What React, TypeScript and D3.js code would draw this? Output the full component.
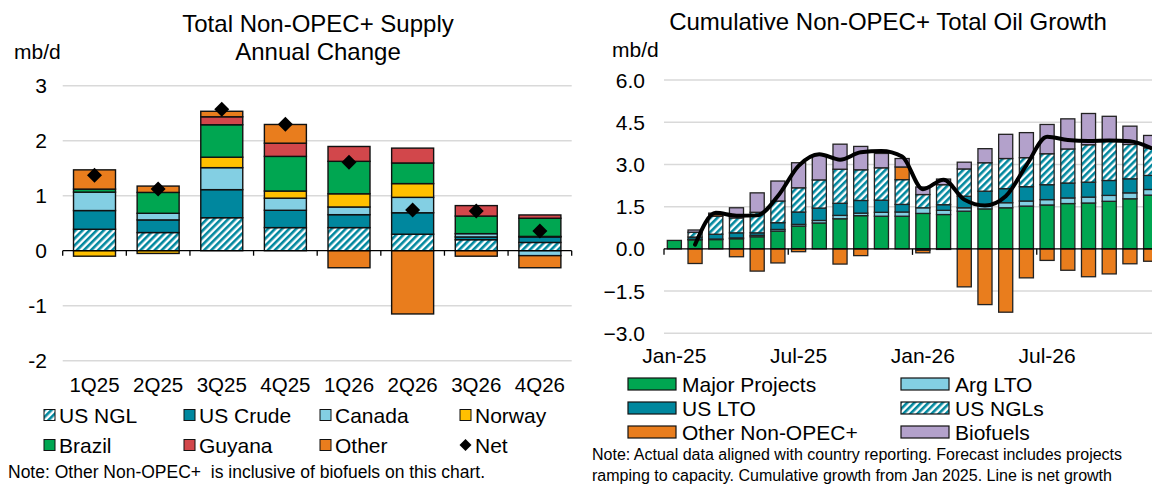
import React from 'react';
import * as d3 from 'd3';

// ---------- Left chart data (mb/d, annual change) ----------
const quarters = ['1Q25', '2Q25', '3Q25', '4Q25', '1Q26', '2Q26', '3Q26', '4Q26'];
const usNgl = [0.39, 0.33, 0.6, 0.42, 0.42, 0.3, 0.2, 0.15];
const usCrude = [0.34, 0.23, 0.51, 0.315, 0.235, 0.39, 0.05, 0.1];
const canada = [0.335, 0.12, 0.4, 0.22, 0.14, 0.28, 0.06, -0.09];
const norway = [-0.1, -0.05, 0.19, 0.13, 0.24, 0.25, 0, 0.01];
const brazil = [0.055, 0.38, 0.59, 0.63, 0.59, 0.375, 0.32, 0.33];
const guyana = [0, 0, 0.145, 0.24, 0.27, 0.27, 0.19, 0.06];
const otherQ = [0.35, 0.115, 0.1, 0.34, -0.31, -1.15, -0.1, -0.22];
const netQ = [1.37, 1.12, 2.57, 2.3, 1.61, 0.74, 0.72, 0.36];
const leftTicks = [-2, -1, 0, 1, 2, 3];

// ---------- Right chart data (cumulative growth from Jan 2025) ----------
const months = [
  'Jan-25', 'Feb-25', 'Mar-25', 'Apr-25', 'May-25', 'Jun-25', 'Jul-25', 'Aug-25', 'Sep-25', 'Oct-25', 'Nov-25', 'Dec-25',
  'Jan-26', 'Feb-26', 'Mar-26', 'Apr-26', 'May-26', 'Jun-26', 'Jul-26', 'Aug-26', 'Sep-26', 'Oct-26', 'Nov-26', 'Dec-26',
];
const majorProjects = [0.3, 0.32, 0.33, 0.36, 0.43, 0.63, 0.81, 0.92, 1.07, 1.18, 1.16, 1.16, 1.26, 1.22, 1.34, 1.42, 1.46, 1.52, 1.56, 1.61, 1.63, 1.69, 1.78, 1.91];
const argLto = [0, 0.02, 0.02, 0.03, 0.05, 0.06, 0.06, 0.09, 0.12, 0.09, 0.14, 0.15, 0.2, 0.15, 0.12, 0.13, 0.18, 0.18, 0.19, 0.2, 0.21, 0.21, 0.21, 0.2];
const usLto = [0, 0.08, 0.17, 0.18, 0.09, 0.24, 0.44, 0.44, 0.43, 0.45, 0.43, 0.27, -0.05, 0.2, 0.41, 0.5, 0.5, 0.51, 0.53, 0.53, 0.53, 0.53, 0.5, 0.5];
const usNgls = [0, 0.17, 0.64, 0.53, 0.73, 0.77, 0.86, 1.0, 1.21, 1.09, 1.15, 0.88, 0.47, 0.71, 0.97, 1.01, 1.07, 1.03, 1.1, 1.21, 1.33, 1.39, 1.22, 0.98];
const otherNonOpec = [0, -0.52, 0.06, -0.28, -0.79, -0.5, -0.1, 0, -0.54, -0.24, 0, 0.45, -0.09, -0.02, -1.35, -1.98, -2.25, -1.03, -0.41, -0.76, -0.99, -0.89, -0.53, -0.44];
const biofuels = [0, 0.08, 0.05, 0.36, 0.69, 0.71, 0.89, 0.88, 0.89, 0.83, 0.51, 0.3, 0.27, 0.2, 0.24, 0.5, 0.86, 0.89, 1.04, 1.07, 1.11, 0.89, 0.65, 0.44];
const netLine: (number | null)[] = [null, 0.15, 1.28, 1.18, 1.19, 1.88, 2.95, 3.36, 3.17, 3.43, 3.48, 3.28, 2.12, 2.46, 1.75, 1.54, 1.87, 2.97, 3.98, 3.87, 3.83, 3.85, 3.82, 3.59];
const rightTicks = [-3, -1.5, 0, 1.5, 3, 4.5, 6];
const monthLabels = ['Jan-25', 'Jul-25', 'Jan-26', 'Jul-26'];

const C = {
  green: '#00A651',
  teal: '#00879E',
  light: '#83CFE3',
  yellow: '#FFC000',
  red: '#D2474B',
  orange: '#E97D1D',
  purple: '#B3A1CB',
  grid: '#D9D9D9',
};
const FONT = '"Liberation Sans", Arial, Helvetica, sans-serif';

const leftKeys = ['US NGL', 'US Crude', 'Canada', 'Norway', 'Brazil', 'Guyana', 'Other'];
const leftSeries = [usNgl, usCrude, canada, norway, brazil, guyana, otherQ];
const leftFill: Record<string, string> = {
  'US NGL': 'url(#hatch)',
  'US Crude': C.teal,
  Canada: C.light,
  Norway: C.yellow,
  Brazil: C.green,
  Guyana: C.red,
  Other: C.orange,
};

const rightKeys = ['Major Projects', 'Arg LTO', 'US LTO', 'US NGLs', 'Other Non-OPEC+', 'Biofuels'];
const rightSeries = [majorProjects, argLto, usLto, usNgls, otherNonOpec, biofuels];
const rightFill: Record<string, string> = {
  'Major Projects': C.green,
  'Arg LTO': C.light,
  'US LTO': C.teal,
  'US NGLs': 'url(#hatch)',
  'Other Non-OPEC+': C.orange,
  Biofuels: C.purple,
};

export default function App() {
  // Left scales
  const xL = d3.scaleBand<string>().domain(quarters).range([62.7, 571.7]).paddingInner(0.34).paddingOuter(0.17);
  const yL = d3.scaleLinear().domain([-2, 3]).range([360.7, 85.7]);
  const leftRows = quarters.map((q, i) => {
    const r: any = { q };
    leftKeys.forEach((k, j) => (r[k] = leftSeries[j][i]));
    return r;
  });
  const leftStack = d3.stack<any>().keys(leftKeys).offset(d3.stackOffsetDiverging)(leftRows);

  // Right scales
  const xR = d3.scaleBand<string>().domain(months).range([664, 1161]).paddingInner(0.32).paddingOuter(0.16);
  const yR = d3.scaleLinear().domain([-3, 6]).range([333.3, 80]);
  const rightRows = months.map((m, i) => {
    const r: any = { m };
    rightKeys.forEach((k, j) => (r[k] = rightSeries[j][i]));
    return r;
  });
  const rightStack = d3.stack<any>().keys(rightKeys).offset(d3.stackOffsetDiverging)(rightRows);
  const line = d3
    .line<number | null>()
    .defined((d) => d !== null)
    .x((_, i) => (xR(months[i]) as number) + xR.bandwidth() / 2)
    .y((d) => yR(d as number))
    .curve(d3.curveMonotoneX);

  const diamond = (cx: number, cy: number, r: number) => `M${cx},${cy - r}L${cx + r},${cy}L${cx},${cy + r}L${cx - r},${cy}Z`;

  const leftLegend = [
    ['US NGL', 'US Crude', 'Canada', 'Norway'],
    ['Brazil', 'Guyana', 'Other', 'Net'],
  ];
  const leftLegendX = [44, 184, 320, 460];
  const leftLegendY = [415, 445];

  const rightLegend = [
    ['Major Projects', 'Arg LTO'],
    ['US LTO', 'US NGLs'],
    ['Other Non-OPEC+', 'Biofuels'],
  ];
  const rightLegendX = [628, 901];
  const rightLegendY = [384, 408, 432];

  return (
    <svg
      width={1152}
      height={484}
      style={{ position: 'absolute', left: 0, top: 0, background: '#fff' }}
      fontFamily={FONT}
    >
      <defs>
        <pattern id="hatch" patternUnits="userSpaceOnUse" width={5} height={5} patternTransform="rotate(45)">
          <rect x={0} y={0} width={5} height={5} fill="#fff" />
          <rect x={0} y={0} width={2.6} height={5} fill={C.teal} />
        </pattern>
        <clipPath id="rclip">
          <rect x={580} y={0} width={572} height={484} />
        </clipPath>
      </defs>
      <rect x={0} y={0} width={1152} height={484} fill="#fff" />

      {/* ================= LEFT CHART ================= */}
      <text x={318} y={32} fontSize={24} textAnchor="middle" fill="#000">Total Non-OPEC+ Supply</text>
      <text x={318} y={60} fontSize={24} textAnchor="middle" fill="#000">Annual Change</text>
      <text x={14} y={59} fontSize={21} fill="#000">mb/d</text>

      {leftTicks.map((t) => (
        <g key={'lt' + t}>
          {t !== 0 && <line x1={62.7} x2={571.7} y1={yL(t)} y2={yL(t)} stroke={C.grid} strokeWidth={1.5} />}
          <text x={47} y={yL(t)} dy="0.36em" fontSize={21} textAnchor="end" fill="#000">{t}</text>
        </g>
      ))}

      {leftStack.map((s) => (
        <g key={s.key}>
          {s.map((d, i) => {
            const v = d[1] - d[0];
            if (Math.abs(v) < 1e-9) return null;
            const y0 = yL(Math.max(d[0], d[1]));
            const y1 = yL(Math.min(d[0], d[1]));
            return (
              <rect
                key={i}
                x={xL(quarters[i])}
                y={y0}
                width={xL.bandwidth()}
                height={y1 - y0}
                fill={leftFill[s.key]}
                stroke="#111"
                strokeWidth={1.4}
              />
            );
          })}
        </g>
      ))}

      <line x1={62.7} x2={571.7} y1={yL(0)} y2={yL(0)} stroke="#000" strokeWidth={1.3} />
      {d3.range(quarters.length + 1).map((i) => {
        const x = 62.7 + i * xL.step();
        return <line key={'ltk' + i} x1={x} x2={x} y1={yL(0)} y2={yL(0) + 5} stroke="#000" strokeWidth={1.3} />;
      })}

      {netQ.map((v, i) => (
        <path key={'nd' + i} d={diamond((xL(quarters[i]) as number) + xL.bandwidth() / 2, yL(v), 7.5)} fill="#000" />
      ))}

      {quarters.map((q) => (
        <text key={'xl' + q} x={(xL(q) as number) + xL.bandwidth() / 2} y={392} fontSize={20.5} textAnchor="middle" fill="#000">{q}</text>
      ))}

      {leftLegend.map((row, ri) =>
        row.map((k, ci) => {
          const x = leftLegendX[ci];
          const cy = leftLegendY[ri];
          return (
            <g key={'ll' + k}>
              {k === 'Net' ? (
                <path d={diamond(x + 5.5, cy, 6)} fill="#000" />
              ) : (
                <rect x={x} y={cy - 5.5} width={11} height={11} fill={leftFill[k]} stroke="#111" strokeWidth={1} />
              )}
              <text x={x + 15} y={cy} dy="0.36em" fontSize={21} fill="#000">{k}</text>
            </g>
          );
        })
      )}

      <text x={8} y={478} fontSize={17.5} fill="#000" xmlSpace="preserve">Note: Other Non-OPEC+  is inclusive of biofuels on this chart.</text>

      {/* ================= RIGHT CHART ================= */}
      <text x={888} y={30} fontSize={24} textAnchor="middle" fill="#000">Cumulative Non-OPEC+ Total Oil Growth</text>
      <text x={612} y={57} fontSize={21} fill="#000">mb/d</text>

      <g clipPath="url(#rclip)">
        {rightTicks.map((t) => (
          <g key={'rt' + t}>
            {t !== 0 && <line x1={664} x2={1161} y1={yR(t)} y2={yR(t)} stroke={C.grid} strokeWidth={1.5} />}
            <text x={645} y={yR(t)} dy="0.36em" fontSize={21} textAnchor="end" fill="#000">{d3.format('.1f')(t)}</text>
          </g>
        ))}

        {rightStack.map((s) => (
          <g key={s.key}>
            {s.map((d, i) => {
              const v = d[1] - d[0];
              if (Math.abs(v) < 1e-9) return null;
              const y0 = yR(Math.max(d[0], d[1]));
              const y1 = yR(Math.min(d[0], d[1]));
              return (
                <rect
                  key={i}
                  x={xR(months[i])}
                  y={y0}
                  width={xR.bandwidth()}
                  height={y1 - y0}
                  fill={rightFill[s.key]}
                  stroke="#222"
                  strokeWidth={1.3}
                />
              );
            })}
          </g>
        ))}

        <line x1={664} x2={1161} y1={yR(0)} y2={yR(0)} stroke="#000" strokeWidth={1.3} />
        {[0, 6, 12, 18].map((i) => {
          const x = (xR(months[i]) as number) - (xR.step() - xR.bandwidth()) / 2;
          return <line key={'rtk' + i} x1={x} x2={x} y1={yR(0)} y2={yR(0) + 6} stroke="#000" strokeWidth={1.3} />;
        })}

        <path d={line(netLine) || ''} fill="none" stroke="#000" strokeWidth={4} strokeLinejoin="round" strokeLinecap="round" />

        {monthLabels.map((m) => (
          <text key={'ml' + m} x={(xR(m) as number) + xR.bandwidth() / 2} y={363} fontSize={21} textAnchor="middle" fill="#000">{m}</text>
        ))}
      </g>

      {rightLegend.map((row, ri) =>
        row.map((k, ci) => {
          const x = rightLegendX[ci];
          const cy = rightLegendY[ri];
          return (
            <g key={'rl' + k}>
              <rect x={x} y={cy - 6} width={48} height={12} fill={rightFill[k]} stroke="#111" strokeWidth={1.2} />
              <text x={x + 54} y={cy} dy="0.36em" fontSize={21} fill="#000">{k}</text>
            </g>
          );
        })
      )}

      <text x={592} y={460} fontSize={16} fill="#000">Note: Actual data aligned with country reporting. Forecast includes projects</text>
      <text x={592} y={481} fontSize={16} fill="#000">ramping to capacity. Cumulative growth from Jan 2025. Line is net growth</text>
    </svg>
  );
}
